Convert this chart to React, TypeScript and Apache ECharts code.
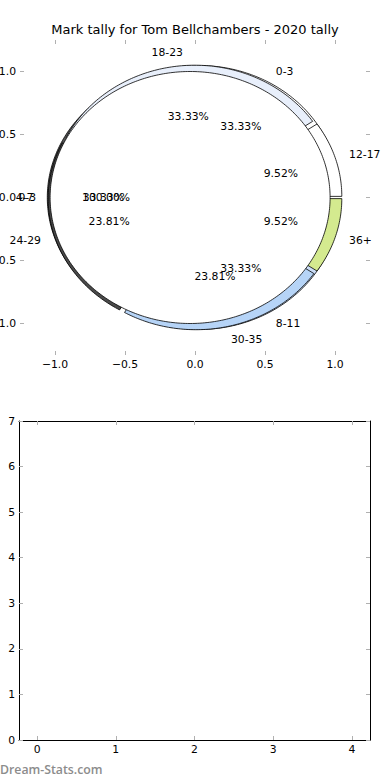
import React, { useEffect, useRef } from "react";
import * as echarts from "echarts";

const TITLE = "Mark tally for Tom Bellchambers - 2020 tally";
const WATERMARK = "Dream-Stats.com";

// Pie 1 (age groups)
const ageLabels = ["12-17", "18-23", "24-29", "30-35", "36+"];
const ageValues = [2, 7, 5, 5, 2];
const ageColors = ["#ffffff", "#e8effb", "#4a4a4a", "#b6d4f7", "#d4ea8f"];

// Pie 2 (mark groups)
const markLabels = ["0-3", "4-7", "8-11"];
const markValues = [1, 1, 1];
const markColors = ["#ffffff", "#555555", "#cadcf6"];

// Pie 3 (total)
const totalLabels = ["0-3"];
const totalValues = [1];
const totalColors = ["#ffffff"];

const pieTicks = [-1, -0.5, 0, 0.5, 1];
const barXTicks = [0, 1, 2, 3, 4];
const barYTicks = [0, 1, 2, 3, 4, 5, 6, 7];
const barValues: number[] = [];

const FONT = "DejaVu Sans";
const FS = 10.8;

type Wedge = { t1: number; t2: number; cx: number; cy: number; r: number; mid: number; pct: number };

function layoutPie(values: number[], radius: number, explode: number): Wedge[] {
  const total = values.reduce((a, b) => a + b, 0);
  let t1 = 0;
  return values.map((v) => {
    const t2 = t1 + (360 * v) / total;
    const mid = (((t1 + t2) / 2) * Math.PI) / 180;
    const w = {
      t1,
      t2,
      cx: explode * Math.cos(mid),
      cy: explode * Math.sin(mid),
      r: radius,
      mid,
      pct: (100 * v) / total,
    };
    t1 = t2;
    return w;
  });
}

const pies = [
  { labels: markLabels, colors: markColors, wedges: layoutPie(markValues, 1.0, 0.055) },
  { labels: ageLabels, colors: ageColors, wedges: layoutPie(ageValues, 1.02, 0.03) },
  { labels: totalLabels, colors: totalColors, wedges: layoutPie(totalValues, 1.0, 0.035) },
];

const minus = (s: string) => s.replace("-", "\u2212");

function wedgeSeries(pie: any, z: number) {
  return {
    type: "custom",
    xAxisIndex: 0,
    yAxisIndex: 0,
    z,
    silent: true,
    data: pie.wedges.map((w: Wedge) => [w.cx, w.cy]),
    renderItem: (params: any, api: any) => {
      const i = params.dataIndex;
      const w: Wedge = pie.wedges[i];
      const span = w.t2 - w.t1;
      const full = span >= 359.999;
      const pts: number[][] = [];
      if (!full) pts.push(api.coord([w.cx, w.cy]));
      const steps = Math.max(4, Math.ceil(span));
      for (let k = 0; k <= steps; k++) {
        const a = ((w.t1 + (span * k) / steps) * Math.PI) / 180;
        pts.push(api.coord([w.cx + w.r * Math.cos(a), w.cy + w.r * Math.sin(a)]));
      }
      return {
        type: "polygon",
        shape: { points: pts },
        style: { fill: pie.colors[i], stroke: "#000", lineWidth: 0.8 },
      };
    },
  };
}

function labelSeries(pie: any, z: number) {
  return {
    type: "custom",
    xAxisIndex: 0,
    yAxisIndex: 0,
    z,
    silent: true,
    data: pie.wedges.map((w: Wedge) => [w.cx, w.cy]),
    renderItem: (params: any, api: any) => {
      const i = params.dataIndex;
      const w: Wedge = pie.wedges[i];
      const lx = w.cx + 1.1 * w.r * Math.cos(w.mid);
      const ly = w.cy + 1.1 * w.r * Math.sin(w.mid);
      const px = w.cx + 0.6 * w.r * Math.cos(w.mid);
      const py = w.cy + 0.6 * w.r * Math.sin(w.mid);
      const lp = api.coord([lx, ly]);
      const pp = api.coord([px, py]);
      return {
        type: "group",
        children: [
          {
            type: "text",
            x: lp[0],
            y: lp[1],
            style: {
              text: pie.labels[i],
              align: lx > 0 ? "left" : "right",
              verticalAlign: "middle",
              fontFamily: FONT,
              fontSize: FS,
              fill: "#000",
            },
          },
          {
            type: "text",
            x: pp[0],
            y: pp[1],
            style: {
              text: w.pct.toFixed(2) + "%",
              align: "center",
              verticalAlign: "middle",
              fontFamily: FONT,
              fontSize: FS,
              fill: "#000",
            },
          },
        ],
      };
    },
  };
}

const tickStyle = { show: true, inside: true, length: 4, lineStyle: { color: "#b0b0b0", width: 1 } };
const labelStyle = { fontFamily: FONT, fontSize: FS, color: "#000" };

function pieAxis(position: string, labels: boolean) {
  return {
    type: "value",
    gridIndex: 0,
    position,
    min: -1.25,
    max: 1.25,
    splitLine: { show: false },
    axisLine: { show: false, onZero: false },
    axisTick: { ...tickStyle, customValues: pieTicks },
    axisLabel: {
      show: labels,
      ...labelStyle,
      margin: 4,
      customValues: pieTicks,
      formatter: (v: number) => minus(v.toFixed(1)),
    },
  };
}

function barAxis(position: string, labels: boolean, isX: boolean) {
  const ticks = isX ? barXTicks : barYTicks;
  return {
    type: "value",
    gridIndex: 1,
    position,
    min: isX ? -0.23 : 0,
    max: isX ? 4.23 : 7,
    splitLine: { show: false },
    axisLine: { show: true, onZero: false, lineStyle: { color: "#000", width: 1 } },
    axisTick: { ...tickStyle, customValues: ticks },
    axisLabel: {
      show: labels,
      ...labelStyle,
      margin: 4,
      customValues: ticks,
      formatter: (v: number) => minus(String(v)),
    },
  };
}

export default function App() {
  const ref = useRef<HTMLDivElement>(null);
  useEffect(() => {
    document.body.style.margin = "0";
    if (!ref.current) return;
    const chart = echarts.init(ref.current, undefined, { renderer: "svg" });
    chart.setOption({
      animation: false,
      backgroundColor: "#fff",
      title: {
        text: TITLE,
        left: "center",
        top: 18,
        textStyle: { fontFamily: FONT, fontSize: 13, fontWeight: "normal", color: "#000" },
      },
      grid: [
        { left: 20, right: 20, top: 40, height: 315, containLabel: false, outerBoundsMode: "none" },
        { left: 19, right: 20, top: 421, height: 319, containLabel: false, outerBoundsMode: "none" },
      ],
      xAxis: [
        pieAxis("bottom", true),
        pieAxis("top", false),
        barAxis("bottom", true, true),
        barAxis("top", false, true),
      ],
      yAxis: [
        pieAxis("left", true),
        pieAxis("right", false),
        barAxis("left", true, false),
        barAxis("right", false, false),
      ],
      graphic: [
        {
          type: "text",
          left: 0,
          top: 763,
          style: {
            text: WATERMARK,
            fontFamily: "Open Sans",
            fontWeight: 600,
            fontSize: 12.3,
            fill: "#8c8c8c",
          },
        },
      ],
      series: [
        wedgeSeries(pies[0], 2),
        wedgeSeries(pies[1], 3),
        wedgeSeries(pies[2], 4),
        labelSeries(pies[0], 10),
        labelSeries(pies[1], 10),
        labelSeries(pies[2], 10),
        {
          type: "bar",
          xAxisIndex: 2,
          yAxisIndex: 2,
          data: barValues.map((v, i) => [i, v]),
        },
      ],
    });
    return () => chart.dispose();
  }, []);
  return <div ref={ref} style={{ width: 390, height: 780 }} />;
}
